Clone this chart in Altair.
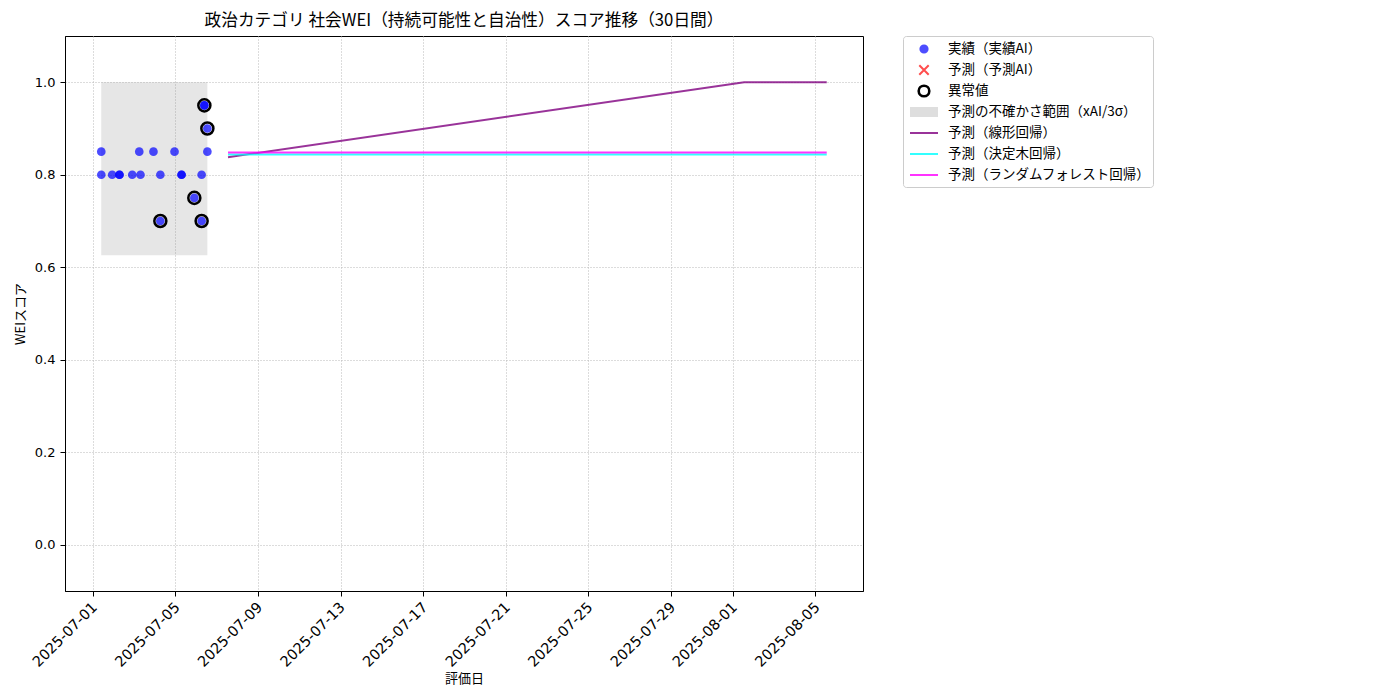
import altair as alt
import pandas as pd

FONT = "Noto Sans CJK JP"
TICK_FONT = "DejaVu Sans"
TITLE = "政治カテゴリ 社会WEI（持続可能性と自治性）スコア推移（30日間）"

# observed scores (実績AI)
obs_dates = [
    "2025-07-01T09:50:00", "2025-07-01T09:50:00", "2025-07-01T22:30:00",
    "2025-07-02T07:00:00", "2025-07-02T07:00:00", "2025-07-02T21:50:00",
    "2025-07-03T06:00:00", "2025-07-03T07:25:00", "2025-07-03T22:30:00",
    "2025-07-04T06:30:00", "2025-07-04T06:30:00", "2025-07-04T23:00:00",
    "2025-07-05T07:10:00", "2025-07-05T07:10:00", "2025-07-05T22:00:00",
    "2025-07-06T06:30:00", "2025-07-06T06:30:00", "2025-07-06T09:40:00",
    "2025-07-06T09:40:00", "2025-07-06T13:10:00", "2025-07-06T13:10:00",
]
obs_values = [
    0.85, 0.80, 0.80,
    0.80, 0.80, 0.80,
    0.85, 0.80, 0.85,
    0.80, 0.70, 0.85,
    0.80, 0.80, 0.75,
    0.80, 0.70, 0.95,
    0.95, 0.85, 0.90,
]

# anomalies (異常値)
outlier_dates = ["2025-07-04T06:30:00", "2025-07-05T22:00:00", "2025-07-06T06:30:00",
                 "2025-07-06T09:40:00", "2025-07-06T13:10:00"]
outlier_values = [0.70, 0.75, 0.70, 0.95, 0.90]

# uncertainty band (xAI / 3 sigma)
band_dates = ["2025-07-01T09:50:00", "2025-07-06T13:10:00"]
band_lower = [0.626, 0.626]
band_upper = [1.0, 1.0]

# forecasts
lin_dates = ["2025-07-07T13:10:00", "2025-08-01T13:10:00", "2025-08-05T13:10:00"]
lin_values = [0.838, 1.0, 1.0]
tree_dates = ["2025-07-07T13:10:00", "2025-08-05T13:10:00"]
tree_values = [0.844, 0.844]
forest_dates = ["2025-07-07T13:10:00", "2025-08-05T13:10:00"]
forest_values = [0.848, 0.848]

x_tick_dates = ["2025-07-01", "2025-07-05", "2025-07-09", "2025-07-13", "2025-07-17",
                "2025-07-21", "2025-07-25", "2025-07-29", "2025-08-01", "2025-08-05"]
y_ticks = [0.0, 0.2, 0.4, 0.6, 0.8, 1.0]
y_range = [-0.1, 1.1]

series_names = ["実績（実績AI）", "予測（予測AI）", "異常値", "予測の不確かさ範囲（xAI/3σ）",
                "予測（線形回帰）", "予測（決定木回帰）", "予測（ランダムフォレスト回帰）"]
# legend swatch colours (as seen, i.e. with the marks' transparency on white)
legend_colors = ["#4d4dff", "#ff4d4d", "#000000", "#dedede", "#993399", "#33ffff", "#ff33ff"]

# ---------------------------------------------------------------- tables
obs_df = pd.DataFrame({"date": obs_dates, "value": obs_values})
out_df = pd.DataFrame({"date": outlier_dates, "value": outlier_values})
band_df = pd.DataFrame({"date": band_dates, "lower": band_lower, "upper": band_upper})
lin_df = pd.DataFrame({"date": lin_dates, "value": lin_values})
tree_df = pd.DataFrame({"date": tree_dates, "value": tree_values})
forest_df = pd.DataFrame({"date": forest_dates, "value": forest_values})
legend_df = pd.DataFrame({"series": series_names})


def dt(s):
    t = pd.Timestamp(s)
    return alt.DateTime(year=t.year, month=t.month, date=t.day, hours=t.hour,
                        minutes=t.minute, seconds=t.second)


all_dates = pd.to_datetime(obs_dates + lin_dates + tree_dates + forest_dates)
span = all_dates.max() - all_dates.min()
x_domain = [dt(all_dates.min() - span * 0.05), dt(all_dates.max() + span * 0.05)]

xscale = alt.Scale(domain=x_domain, nice=False)
yscale = alt.Scale(domain=y_range, nice=False, zero=False)

xaxis = alt.Axis(values=[dt(d) for d in x_tick_dates], format="%Y-%m-%d", title="評価日",
                 labelAngle=-45, labelAlign="right", labelBaseline="top",
                 labelFont=TICK_FONT, labelFontSize=14.5, titleFontSize=13,
                 labelPadding=4, labelOffset=-3, titlePadding=3,
                 gridDash=[1, 2], gridColor="#b8b8b8", tickSize=5, labelFlush=False,
                 labelOverlap=False)
yaxis = alt.Axis(values=y_ticks, format=".1f", title="WEIスコア",
                 labelFont=TICK_FONT, labelFontSize=13, titleFontSize=13,
                 labelPadding=5, titlePadding=7,
                 gridDash=[1, 2], gridColor="#b8b8b8", tickSize=5)

# legend swatches: unit-square paths (1 unit = 10 px at symbolSize 400), stroked 2 px;
# every swatch starts with bare move-tos so all rows share the same height
def ring(r):
    return f"M{r},0A{r},{r} 0 1,0 -{r},0A{r},{r} 0 1,0 {r},0"

BOX = "M0,-0.53M0,0.53"
DOT = BOX + ring(0.1) + ring(0.3) + ring(0.36)
XMARK = BOX + "M-0.47,-0.47L0.47,0.47M-0.47,0.47L0.47,-0.47"
RING = BOX + ring(0.5) + ring(0.56)
RECT = BOX + "".join(f"M-1.4,{y}H1.4" for y in (-0.4, -0.2, 0, 0.2, 0.4))
LINE = BOX + "M-1.4,0H1.4"
legend_shapes = [DOT, XMARK, RING, RECT, LINE, LINE, LINE]

legend = alt.Legend(
    title=None, orient="none", legendX=838, legendY=0, symbolSize=400,
    symbolStrokeWidth=2, symbolOpacity=1, symbolFillColor="transparent",
    padding=2, symbolOffset=8, labelOffset=13, rowPadding=0,
    labelFont=FONT, labelFontSize=13.5, labelColor="black", labelLimit=400,
    strokeColor="#cccccc", fillColor="white", cornerRadius=3,
)

X = alt.X("date:T", scale=xscale, axis=xaxis)

band = alt.Chart(band_df).mark_area(opacity=0.2, color="gray").encode(
    x=X, y=alt.Y("lower:Q", scale=yscale, axis=yaxis), y2="upper:Q",
)


def line(df, col):
    return alt.Chart(df).mark_line(strokeWidth=2, opacity=0.8, color=col).encode(
        x=X, y=alt.Y("value:Q", scale=yscale, axis=yaxis))


scatter = alt.Chart(obs_df).mark_circle(size=75, opacity=0.7, color="#0000ff").encode(
    x=X, y=alt.Y("value:Q", scale=yscale, axis=yaxis),
)

rings = alt.Chart(out_df).mark_point(filled=False, size=145, strokeWidth=2.5, opacity=1,
                                     color="black").encode(
    x=X, y=alt.Y("value:Q", scale=yscale, axis=yaxis),
)

legend_layer = alt.Chart(legend_df).mark_point(filled=False, opacity=0).encode(
    color=alt.Color("series:N", scale=alt.Scale(domain=series_names, range=legend_colors),
                    legend=legend),
    shape=alt.Shape("series:N", scale=alt.Scale(domain=series_names, range=legend_shapes),
                    legend=legend),
)

chart = alt.layer(
    band, line(lin_df, "purple"), line(tree_df, "cyan"), line(forest_df, "magenta"),
    scatter, rings, legend_layer,
).properties(
    width=798, height=555,
    title=alt.TitleParams(TITLE, font=FONT, fontSize=16.7, fontWeight="normal",
                          anchor="middle", offset=6, color="black"),
    autosize=alt.AutoSizeParams(type="none"),
    padding={"left": 57, "top": 28, "right": 500, "bottom": 100},
).configure_view(
    stroke="black", strokeWidth=1,
).configure_axis(
    labelFont=TICK_FONT, titleFont=FONT, labelColor="black", titleColor="black",
    titleFontWeight="normal", domainColor="black", tickColor="black",
    tickWidth=1, domainWidth=1,
)

chart.save("out.html", embed_options={"renderer": "svg", "actions": False})
